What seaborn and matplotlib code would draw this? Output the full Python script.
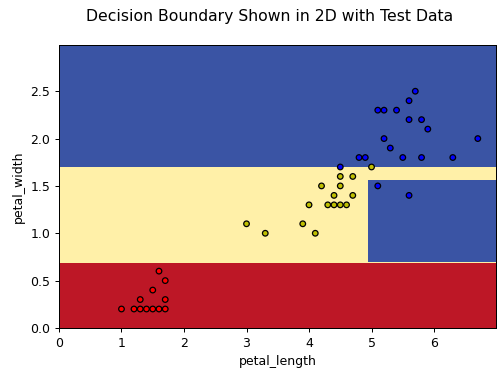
import numpy as np
import pandas as pd
import matplotlib
matplotlib.use("Agg")
import matplotlib.pyplot as plt
from matplotlib.colors import ListedColormap
import seaborn as sns

# test data
setosa_length = [1.0, 1.2, 1.3, 1.4, 1.5, 1.6, 1.7, 1.3, 1.7, 1.5, 1.7, 1.6]
setosa_width = [0.2, 0.2, 0.2, 0.2, 0.2, 0.2, 0.2, 0.3, 0.3, 0.4, 0.5, 0.6]
versicolor_length = [3.0, 3.3, 3.9, 4.1, 4.0, 4.2, 4.3, 4.4, 4.5, 4.6, 4.4, 4.5, 4.5, 4.7, 4.7, 5.0]
versicolor_width = [1.1, 1.0, 1.1, 1.0, 1.3, 1.5, 1.3, 1.3, 1.3, 1.3, 1.4, 1.5, 1.6, 1.6, 1.4, 1.7]
virginica_length = [5.7, 5.6, 5.1, 5.2, 5.4, 5.6, 5.8, 5.9, 5.2, 6.7, 5.3, 4.8, 4.9, 5.5, 5.8, 6.3, 4.5, 5.1, 5.6]
virginica_width = [2.5, 2.4, 2.3, 2.3, 2.3, 2.2, 2.2, 2.1, 2.0, 2.0, 1.9, 1.8, 1.8, 1.8, 1.8, 1.8, 1.7, 1.5, 1.4]

# decision tree splits
width_split_low = 0.7
width_split_high = 1.7
length_split = 4.95
width_split_mid = 1.55

x_range = (0.0, 6.99)
y_range = (0.0, 2.99)

df = pd.DataFrame({
    "petal_length": setosa_length + versicolor_length + virginica_length,
    "petal_width": setosa_width + versicolor_width + virginica_width,
    "species": (["setosa"] * len(setosa_length)
                + ["versicolor"] * len(versicolor_length)
                + ["virginica"] * len(virginica_length)),
})

# predicted class on a grid
xx, yy = np.meshgrid(np.arange(x_range[0], x_range[1] + 0.01, 0.01),
                     np.arange(y_range[0], y_range[1] + 0.01, 0.01))
zz = np.where(yy <= width_split_low, 0,
              np.where(yy > width_split_high, 2,
                       np.where((xx > length_split) & (yy <= width_split_mid), 2, 1)))

base = plt.get_cmap("RdYlBu")
region_cmap = ListedColormap([base(0.05), base(0.45), base(0.95)])

# 504x380 px at 90 dpi
fig, ax = plt.subplots(figsize=(5.6, 380 / 90), dpi=90)
fig.subplots_adjust(left=0.117, right=0.984, top=0.882, bottom=0.137)

ax.contourf(xx, yy, zz, levels=[-0.5, 0.5, 1.5, 2.5], cmap=region_cmap)

sns.scatterplot(
    data=df, x="petal_length", y="petal_width", hue="species",
    palette=["r", "y", "b"], edgecolor="black", linewidth=1,
    s=20, legend=False, ax=ax,
)

ax.set_xlim(*x_range)
ax.set_ylim(*y_range)
ax.set_xticks(range(7))
ax.set_yticks([0.0, 0.5, 1.0, 1.5, 2.0, 2.5])
ax.set_xlabel("petal_length")
ax.set_ylabel("petal_width")
fig.suptitle("Decision Boundary Shown in 2D with Test Data", x=0.535, y=0.975, fontsize=12.5)

fig.savefig("out.png", dpi=90)
